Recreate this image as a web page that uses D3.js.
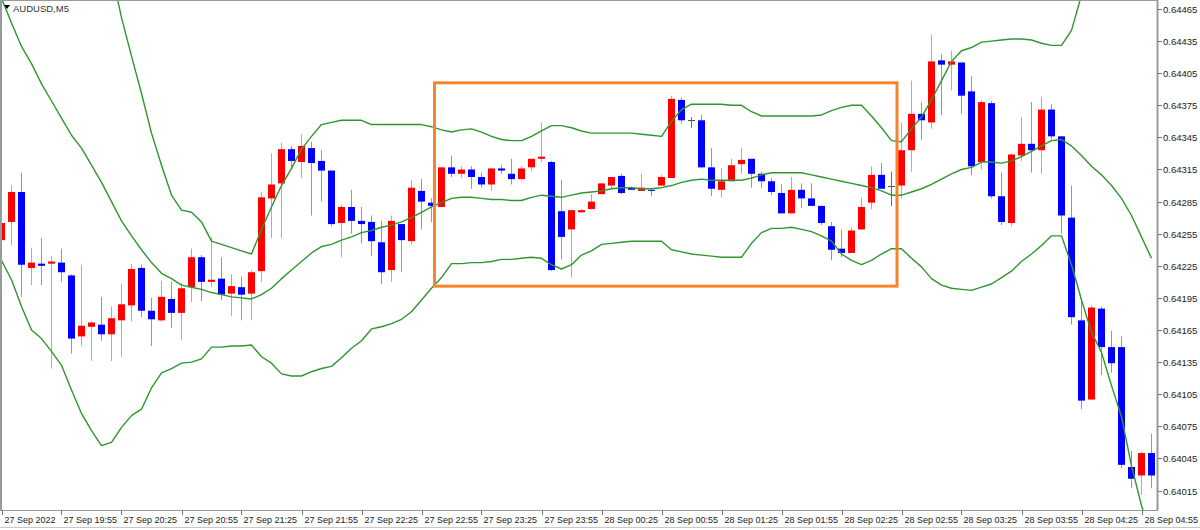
<!DOCTYPE html>
<html><head><meta charset="utf-8">
<script src="https://cdn.jsdelivr.net/npm/d3@7"></script>
<style>
html,body{margin:0;padding:0;background:#fff;}
svg{display:block;}
</style></head><body>
<svg id="c" width="1200" height="530"></svg>
<script>
const symbolLabel = "AUDUSD,M5";
const xTickLabels = ["27 Sep 2022","27 Sep 19:55","27 Sep 20:25","27 Sep 20:55","27 Sep 21:25","27 Sep 21:55","27 Sep 22:25","27 Sep 22:55","27 Sep 23:25","27 Sep 23:55","28 Sep 00:25","28 Sep 00:55","28 Sep 01:25","28 Sep 01:55","28 Sep 02:25","28 Sep 02:55","28 Sep 03:25","28 Sep 03:55","28 Sep 04:25","28 Sep 04:55"];
const yTickValues = [0.64015,0.64045,0.64075,0.64105,0.64135,0.64165,0.64195,0.64225,0.64255,0.64285,0.64315,0.64345,0.64375,0.64405,0.64435,0.64465];

const open = [0.64249,0.64266,0.64294,0.64223,0.64227,0.64227,0.64228,0.64216,0.64159,0.64168,
0.64170,0.64161,0.64174,0.64188,0.64223,0.64183,0.64174,0.64194,0.64181,0.64205,
0.64233,0.64210,0.64213,0.64199,0.64205,0.64199,0.64220,0.64288,0.64302,0.64334,
0.64322,0.64335,0.64323,0.64314,0.64265,0.64280,0.64267,0.64266,0.64247,0.64221,
0.64264,0.64248,0.64295,0.64284,0.64280,0.64317,0.64311,0.64315,0.64308,0.64301,
0.64316,0.64311,0.64306,0.64317,0.64325,0.64322,0.64276,0.64259,0.64275,0.64278,
0.64292,0.64300,0.64309,0.64298,0.64295,0.64296,0.64300,0.64307,0.64380,0.64361,
0.64361,0.64317,0.64296,0.64304,0.64320,0.64325,0.64311,0.64304,0.64293,0.64274,
0.64296,0.64288,0.64281,0.64262,0.64241,0.64237,0.64259,0.64284,0.64310,0.64300,
0.64300,0.64333,0.64367,0.64359,0.64417,0.64413,0.64415,0.64388,0.64322,0.64377,
0.64290,0.64265,0.64328,0.64339,0.64333,0.64371,0.64346,0.64270,0.64174,0.64100,
0.64185,0.64149,0.64149,0.64037,0.64029,0.64050];
const high = [0.64296,0.64300,0.64312,0.64242,0.64251,0.64234,0.64241,0.64217,0.64226,0.64173,
0.64196,0.64187,0.64208,0.64227,0.64226,0.64195,0.64211,0.64210,0.64209,0.64241,
0.64235,0.64252,0.64233,0.64217,0.64215,0.64221,0.64294,0.64330,0.64340,0.64337,
0.64348,0.64341,0.64333,0.64314,0.64282,0.64296,0.64280,0.64272,0.64267,0.64272,
0.64264,0.64305,0.64306,0.64288,0.64317,0.64328,0.64318,0.64318,0.64312,0.64316,
0.64319,0.64325,0.64318,0.64325,0.64359,0.64323,0.64305,0.64277,0.64278,0.64292,
0.64302,0.64308,0.64311,0.64299,0.64311,0.64296,0.64310,0.64384,0.64382,0.64364,
0.64366,0.64335,0.64316,0.64325,0.64335,0.64325,0.64313,0.64307,0.64301,0.64308,
0.64302,0.64302,0.64281,0.64266,0.64259,0.64261,0.64289,0.64318,0.64321,0.64313,
0.64359,0.64398,0.64378,0.64441,0.64423,0.64426,0.64415,0.64402,0.64380,0.64379,
0.64312,0.64330,0.64364,0.64378,0.64383,0.64376,0.64346,0.64300,0.64195,0.64188,
0.64187,0.64164,0.64159,0.64052,0.64051,0.64068];
const low = [0.64237,0.64244,0.64196,0.64207,0.64207,0.64129,0.64210,0.64143,0.64150,0.64136,
0.64155,0.64136,0.64140,0.64173,0.64177,0.64150,0.64173,0.64167,0.64156,0.64191,
0.64192,0.64205,0.64193,0.64178,0.64174,0.64174,0.64210,0.64251,0.64251,0.64315,
0.64307,0.64272,0.64285,0.64262,0.64233,0.64255,0.64246,0.64234,0.64208,0.64210,
0.64219,0.64245,0.64259,0.64266,0.64280,0.64308,0.64307,0.64297,0.64298,0.64295,
0.64311,0.64301,0.64306,0.64314,0.64322,0.64220,0.64231,0.64214,0.64275,0.64278,
0.64292,0.64297,0.64292,0.64296,0.64295,0.64290,0.64300,0.64307,0.64358,0.64354,
0.64316,0.64290,0.64289,0.64304,0.64311,0.64298,0.64298,0.64291,0.64274,0.64274,
0.64279,0.64281,0.64263,0.64230,0.64233,0.64237,0.64259,0.64278,0.64297,0.64281,
0.64288,0.64313,0.64343,0.64353,0.64366,0.64389,0.64367,0.64310,0.64315,0.64288,
0.64263,0.64262,0.64323,0.64312,0.64311,0.64343,0.64255,0.64170,0.64091,0.64100,
0.64123,0.64125,0.64036,0.64017,0.64011,0.64017];
const close = [0.64265,0.64294,0.64226,0.64228,0.64225,0.64229,0.64219,0.64157,0.64169,0.64172,
0.64161,0.64176,0.64189,0.64222,0.64183,0.64175,0.64196,0.64181,0.64204,0.64233,
0.64210,0.64212,0.64198,0.64206,0.64198,0.64219,0.64289,0.64301,0.64334,0.64323,
0.64337,0.64321,0.64314,0.64264,0.64280,0.64267,0.64264,0.64248,0.64219,0.64267,
0.64249,0.64298,0.64285,0.64281,0.64317,0.64311,0.64315,0.64308,0.64301,0.64316,
0.64314,0.64306,0.64316,0.64325,0.64327,0.64221,0.64252,0.64277,0.64277,0.64285,
0.64302,0.64308,0.64293,0.64296,0.64298,0.64295,0.64308,0.64381,0.64361,0.64361,
0.64317,0.64297,0.64304,0.64319,0.64324,0.64311,0.64304,0.64294,0.64274,0.64296,
0.64288,0.64281,0.64265,0.64240,0.64237,0.64258,0.64280,0.64310,0.64297,0.64300,
0.64333,0.64367,0.64361,0.64416,0.64413,0.64416,0.64384,0.64318,0.64378,0.64290,
0.64266,0.64329,0.64339,0.64333,0.64371,0.64346,0.64272,0.64177,0.64099,0.64186,
0.64149,0.64134,0.64039,0.64026,0.64050,0.64029];

const bbUpper = [null,null,null,null,null,null,null,null,null,null,
null,0.64500,0.64457,0.64421,0.64386,0.64349,0.64319,0.64291,0.64277,0.64275,
0.64266,0.64248,0.64245,0.64242,0.64239,0.64236,0.64259,0.64280,0.64300,0.64316,
0.64334,0.64346,0.64357,0.64359,0.64361,0.64361,0.64361,0.64357,0.64357,0.64357,
0.64357,0.64357,0.64357,0.64355,0.64352,0.64350,0.64352,0.64353,0.64350,0.64346,
0.64343,0.64342,0.64342,0.64346,0.64351,0.64356,0.64356,0.64354,0.64351,0.64349,
0.64349,0.64349,0.64349,0.64349,0.64348,0.64347,0.64346,0.64360,0.64371,0.64376,
0.64376,0.64376,0.64376,0.64375,0.64375,0.64369,0.64365,0.64365,0.64365,0.64365,
0.64365,0.64365,0.64366,0.64370,0.64373,0.64375,0.64375,0.64365,0.64354,0.64342,
0.64341,0.64353,0.64364,0.64380,0.64398,0.64416,0.64426,0.64429,0.64434,0.64435,
0.64436,0.64437,0.64437,0.64436,0.64433,0.64431,0.64431,0.64445,0.64478,0.64511,
null,null,null,null,null,null];
const bbMiddle = [0.64475,0.64452,0.64430,0.64414,0.64395,0.64379,0.64363,0.64347,0.64335,0.64319,
0.64303,0.64285,0.64267,0.64253,0.64240,0.64228,0.64218,0.64213,0.64207,0.64205,
0.64203,0.64200,0.64198,0.64196,0.64195,0.64194,0.64198,0.64204,0.64213,0.64221,
0.64229,0.64237,0.64243,0.64245,0.64249,0.64252,0.64256,0.64258,0.64261,0.64263,
0.64266,0.64270,0.64275,0.64280,0.64284,0.64288,0.64289,0.64289,0.64288,0.64287,
0.64287,0.64286,0.64286,0.64289,0.64291,0.64290,0.64289,0.64291,0.64293,0.64294,
0.64295,0.64297,0.64298,0.64298,0.64297,0.64297,0.64298,0.64300,0.64303,0.64305,
0.64306,0.64305,0.64305,0.64305,0.64305,0.64307,0.64310,0.64312,0.64312,0.64312,
0.64312,0.64310,0.64308,0.64306,0.64304,0.64302,0.64300,0.64298,0.64295,0.64291,
0.64291,0.64294,0.64297,0.64301,0.64306,0.64311,0.64315,0.64317,0.64322,0.64322,
0.64321,0.64323,0.64327,0.64332,0.64337,0.64342,0.64343,0.64337,0.64328,0.64318,
0.64310,0.64300,0.64288,0.64272,0.64252,0.64232];
const bbLower = [0.64230,0.64212,0.64187,0.64165,0.64157,0.64145,0.64132,0.64109,0.64087,0.64071,
0.64057,0.64060,0.64074,0.64085,0.64091,0.64111,0.64125,0.64129,0.64134,0.64135,
0.64138,0.64149,0.64149,0.64150,0.64150,0.64151,0.64140,0.64134,0.64124,0.64122,
0.64122,0.64126,0.64129,0.64131,0.64139,0.64148,0.64155,0.64166,0.64168,0.64171,
0.64175,0.64182,0.64193,0.64204,0.64214,0.64227,0.64227,0.64228,0.64228,0.64229,
0.64231,0.64231,0.64232,0.64233,0.64232,0.64226,0.64222,0.64226,0.64235,0.64239,
0.64245,0.64246,0.64247,0.64248,0.64248,0.64248,0.64248,0.64240,0.64238,0.64236,
0.64235,0.64234,0.64233,0.64233,0.64233,0.64246,0.64256,0.64260,0.64260,0.64261,
0.64259,0.64257,0.64253,0.64248,0.64236,0.64230,0.64226,0.64230,0.64236,0.64241,
0.64241,0.64232,0.64224,0.64213,0.64207,0.64204,0.64203,0.64202,0.64205,0.64208,
0.64214,0.64220,0.64229,0.64236,0.64244,0.64253,0.64253,0.64226,0.64193,0.64163,
0.64144,0.64113,0.64084,0.64038,0.64001,0.63969];

const highlightBox = { fromBar: 43.3, toBar: 89.55, fromPrice: 0.64206, toPrice: 0.64396 };

const W = 1200, H = 530;
const plotRight = 1157, plotBottom = 510;
const n = open.length;
const FONT = "Liberation Sans, Arial, sans-serif";

const svg = d3.select("#c");
const x = d3.scaleLinear().domain([0, n - 1]).range([1.5, 1.5 + 10 * (n - 1)]);
const y = d3.scaleLinear().domain([0.64015, 0.64465]).range([490.5, 9]);

svg.append("rect").attr("width", W).attr("height", H).attr("fill", "#fff");

svg.append("defs").append("clipPath").attr("id", "plot")
  .append("rect").attr("x", 2).attr("y", 1).attr("width", plotRight - 2).attr("height", plotBottom - 1);

const g = svg.append("g").attr("clip-path", "url(#plot)");

const bars = d3.range(n).map(i => ({i, o: open[i], h: high[i], l: low[i], c: close[i]}));
const colorOf = d => d.c > d.o ? "up" : (d.c < d.o ? "down" : "flat");
const bodyCol = {up: "#ff0000", down: "#0000ff", flat: "#505050"};
const wickCol = {up: "#ff8a8a", down: "#8a8aff", flat: "#6a6a6a"};

g.selectAll("line.wick").data(bars).join("line")
  .attr("class", "wick")
  .attr("x1", d => x(d.i)).attr("x2", d => x(d.i))
  .attr("y1", d => y(d.h)).attr("y2", d => y(d.l))
  .attr("stroke", d => wickCol[colorOf(d)]).attr("stroke-width", 1);

g.selectAll("rect.body").data(bars.filter(d => colorOf(d) !== "flat")).join("rect")
  .attr("class", "body")
  .attr("x", d => x(d.i) - 3.5).attr("width", 7)
  .attr("y", d => y(Math.max(d.o, d.c)))
  .attr("height", d => Math.max(1, y(Math.min(d.o, d.c)) - y(Math.max(d.o, d.c))))
  .attr("fill", d => bodyCol[colorOf(d)]);

g.selectAll("line.doji").data(bars.filter(d => colorOf(d) === "flat")).join("line")
  .attr("class", "doji")
  .attr("x1", d => x(d.i) - 3.5).attr("x2", d => x(d.i) + 3.5)
  .attr("y1", d => Math.round(y(d.o)) + 0.5).attr("y2", d => Math.round(y(d.o)) + 0.5)
  .attr("stroke", bodyCol.flat).attr("stroke-width", 1);

const bandLine = d3.line().defined(d => d[1] != null).x(d => x(d[0])).y(d => y(d[1]));
[bbUpper, bbMiddle, bbLower].forEach(arr => {
  g.append("path").datum(arr.map((v, i) => [i, v]))
    .attr("d", bandLine).attr("fill", "none")
    .attr("stroke", "#2f962f").attr("stroke-width", 1.4).attr("stroke-linejoin", "round");
});

g.append("rect")
  .attr("x", x(highlightBox.fromBar)).attr("y", y(highlightBox.toPrice))
  .attr("width", x(highlightBox.toBar) - x(highlightBox.fromBar))
  .attr("height", y(highlightBox.fromPrice) - y(highlightBox.toPrice))
  .attr("fill", "none").attr("stroke", "#f7842a").attr("stroke-width", 3);

// frame
svg.append("rect").attr("x", 0.5).attr("y", 0.5).attr("width", plotRight).attr("height", plotBottom)
  .attr("fill", "none").attr("stroke", "#9a9a9a").attr("stroke-width", 1);
svg.append("line").attr("x1", 1).attr("x2", 1).attr("y1", 0).attr("y2", plotBottom)
  .attr("stroke", "#9a9a9a").attr("stroke-width", 2);
svg.append("line").attr("x1", plotRight + 0.5).attr("x2", plotRight + 0.5).attr("y1", 0).attr("y2", plotBottom)
  .attr("stroke", "#9a9a9a").attr("stroke-width", 2);

// title
svg.append("path").attr("d", "M4,5 L10,5 L7,9 Z").attr("fill", "#000");
svg.append("text").attr("x", 13).attr("y", 12).text(symbolLabel)
  .attr("font-family", FONT).attr("font-size", 9.5).attr("fill", "#333");

// y axis
const yAxis = svg.append("g");
yTickValues.forEach(v => {
  const yy = Math.round(y(v)) + 0.5;
  yAxis.append("line").attr("x1", plotRight + 1).attr("x2", plotRight + 5).attr("y1", yy).attr("y2", yy).attr("stroke", "#777");
  yAxis.append("text").attr("x", plotRight + 6).attr("y", yy).attr("dy", "0.35em")
    .attr("font-family", FONT).attr("font-size", 9.5).attr("fill", "#222")
    .text(d3.format(".5f")(v));
});

// x axis
const xAxis = svg.append("g");
xTickLabels.forEach((lab, k) => {
  const xx = Math.round(x(6 * k)) + 0.5;
  xAxis.append("line").attr("x1", xx).attr("x2", xx).attr("y1", plotBottom).attr("y2", plotBottom + 5).attr("stroke", "#777");
  const t = xAxis.append("text").attr("x", xx + 2).attr("y", plotBottom + 13)
    .attr("font-family", FONT).attr("font-size", 9).attr("fill", "#222")
    .text(lab);
  const w = t.node().getComputedTextLength();
  if (xx + 2 + w > W - 2) t.attr("x", W - 2 - w);
});
svg.append("line").attr("x1", 0).attr("x2", W).attr("y1", 527.5).attr("y2", 527.5).attr("stroke", "#c8c8c8");
</script>
</body></html>
